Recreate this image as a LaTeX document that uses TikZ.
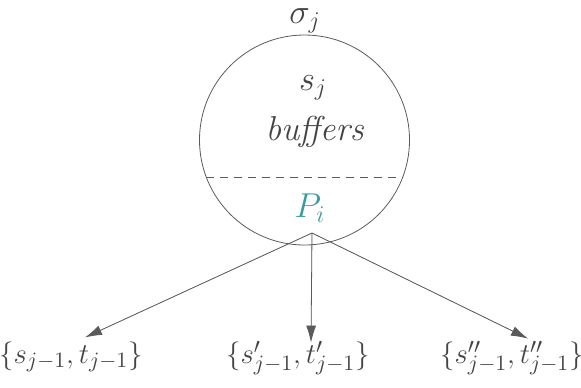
\documentclass[tikz,border=0pt]{standalone}
\usepackage{tikz}
\usetikzlibrary{arrows.meta,calc}
\definecolor{Ink}{HTML}{444444}
\definecolor{Rim}{HTML}{5A5A5A}
\definecolor{Teal}{HTML}{3A9C9C}
\tikzset{
  site/.style={circle, draw=Rim, thin, minimum size=105pt, inner sep=0pt},
  txt/.style={text=Ink, inner sep=0pt, font=\fontsize{18}{21}\selectfont},
  proc/.style={txt, text=Teal},
  pair/.style={txt, font=\fontsize{15}{18}\selectfont},
  arrow/.style={-{Latex[length=8.5pt,width=5pt]}, draw=Rim, thin, fill=Ink},
  cut/.style={draw=Rim, thin, dashed, dash pattern=on 4pt off 3pt}
}
\begin{document}
\begin{tikzpicture}[x=0.5pt, y=-0.5pt]
\useasboundingbox (0,0) rectangle (581,387);
\node[site] (circ) at (304.5,140) {};
\node[txt] (sigma) at (305,21) {$\sigma_j$};
\node[txt] (state) at (313,88) {$s_j$};
\node[txt] (buf) at (316,132) {$\mathit{buffers}$};
\draw[cut] (circ.201.8) -- (circ.-21.8);
\node[proc] (proc) at (310,208) {$P_i$};
\coordinate (fork) at (312,233);
% targets
\node[pair] (left) at (71,357) {$\{s_{j-1},t_{j-1}\}$};
\node[pair] (mid) at (298,358) {$\{s'_{j-1},t'_{j-1}\}$};
\node[pair] (right) at (512,358) {$\{s''_{j-1},t''_{j-1}\}$};
\draw[arrow] (fork) -- ($(left.north)+(14,-4)$);
\draw[arrow] (fork) -- ($(mid.north)+(13,2)$);
\draw[arrow] (fork) -- ($(right.north)+(16,-2)$);
\end{tikzpicture}
\end{document}
